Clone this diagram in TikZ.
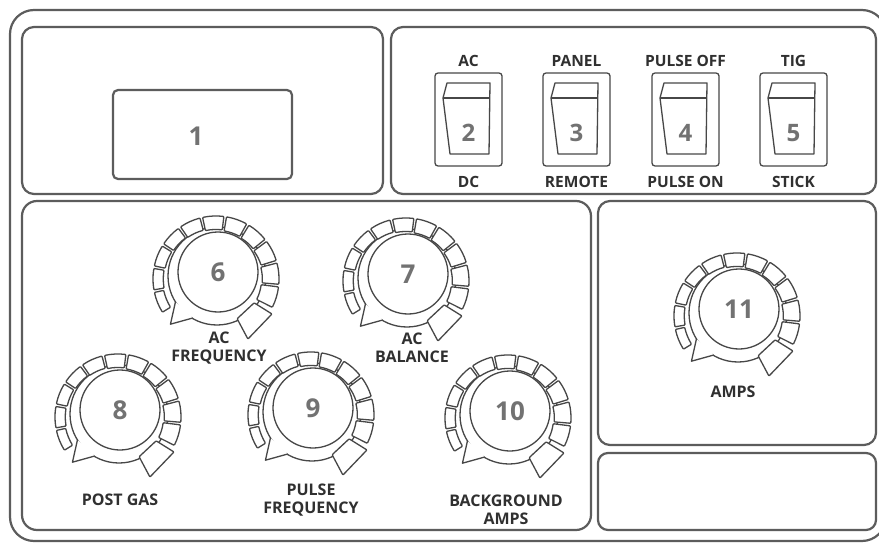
\documentclass[tikz,border=0pt]{standalone}
\usepackage{fontspec}
\setmainfont{Open Sans}
\definecolor{lc}{HTML}{474747}
\definecolor{fc}{HTML}{5c5c5c}
\definecolor{tc}{HTML}{303030}
\definecolor{nc}{HTML}{727272}
\tikzset{
  frame/.style={draw=fc, line width=2.2pt},
  kline/.style={draw=lc, line width=1.3pt, line join=round},
  lbl/.style={text=tc, font=\bfseries\fontsize{16}{18.5}\selectfont, align=center, inner sep=0pt},
  slbl/.style={text=tc, font=\bfseries\fontsize{15.5}{16}\selectfont, align=center, inner sep=0pt},
  knum/.style={text=nc, font=\bfseries\fontsize{26}{30}\selectfont, inner sep=0pt},
  snum/.style={text=nc, font=\bfseries\fontsize{24}{28}\selectfont, inner sep=0pt},
  pics/knob/.style={code={
    \begin{scope}[yscale=-1]
      \draw[kline] (1,3) circle[radius=49];
      \foreach \i in {0,...,10}{
        \pgfmathsetmacro\a{213-\i*21.9-1.2}
        \pgfmathsetmacro\b{213-(\i+1)*21.9+1.2}
        \pgfmathsetmacro\r{53.5-\i*0.8}
        \draw[kline,fill=white,rounded corners=0.8pt] (\a:\r) arc[start angle=\a,end angle=\b,radius=\r] -- (\b:63) arc[start angle=\b,end angle=\a,radius=63] -- cycle;
      }
      \draw[kline,fill=white,rounded corners=0.8pt] (-32:45) -- (-32:66) -- (-62:68) -- (-62:45) -- cycle;
      \begin{scope}[shift={(1,3)}]
        \draw[kline,fill=white] (212:49) -- (226:67) -- (240:48.5);
      \end{scope}
      \draw[kline,fill=white] (2,7) circle[radius=40];
    \end{scope}
    \node[knum] (-n) at (2,-7) {#1};
  }},
  pics/rocker/.style={code={
    \draw[kline,rounded corners=3pt] (0,0) rectangle (67,93);
    \draw[kline] (12,10) -- (55,10) -- (54,81) -- (15,81) -- (8,25) -- cycle;
    \draw[kline] (8,25) -- (55,25);
    \node[snum] (-n) at (33.5,60) {#1};
  }}
}
\begin{document}
\begin{tikzpicture}[x=1pt,y=-1pt]
\useasboundingbox (0,0) rectangle (879,543);
\fill[white] (0,0) rectangle (879,543);
% outer frame and panels
\draw[frame,rounded corners=24pt] (10,10) rectangle (886,541);
\draw[frame,rounded corners=12pt] (22,27) rectangle (383,194);
\draw[frame,rounded corners=12pt] (391,27) rectangle (876,194);
\draw[frame,rounded corners=15pt] (22,201) rectangle (591,530);
\draw[frame,rounded corners=12pt] (598,201) rectangle (876,445);
\draw[frame,rounded corners=10pt] (598,453) rectangle (876,530);
% display
\draw[frame,rounded corners=5pt] (113,90) rectangle (292,179);
\node[knum] (n1) at (196,136) {1};
% switches
\pic (s2) at (435,73) {rocker=2};
\pic (s3) at (543,73) {rocker=3};
\pic (s4) at (652,73) {rocker=4};
\pic (s5) at (760,73) {rocker=5};
\node[slbl] (t2) at (468.5,61) {AC};
\node[slbl] (b2) at (468.5,182) {DC};
\node[slbl] (t3) at (576.5,61) {PANEL};
\node[slbl] (b3) at (576.5,182) {REMOTE};
\node[slbl] (t4) at (685.5,61) {PULSE OFF};
\node[slbl] (b4) at (685.5,182) {PULSE ON};
\node[slbl] (t5) at (793.5,61) {TIG};
\node[slbl] (b5) at (793.5,182) {STICK};
% knobs
\pic (k6) at (216,279) {knob=6};
\pic (k7) at (406,281) {knob=7};
\pic (k8) at (118,417) {knob=8};
\pic (k9) at (311,415) {knob=9};
\pic (k10) at (508,418) {knob=10};
\pic (k11) at (737,316) {knob=11};
\node[lbl] (l6) at (219,348) {AC\\FREQUENCY};
\node[lbl] (l7) at (412,348) {AC\\BALANCE};
\node[lbl] (l8) at (120,500) {POST GAS};
\node[lbl] (l9) at (311,500) {PULSE\\FREQUENCY};
\node[lbl] (l10) at (506,510) {BACKGROUND\\AMPS};
\node[lbl] (l11) at (733,392) {AMPS};
\end{tikzpicture}
\end{document}
